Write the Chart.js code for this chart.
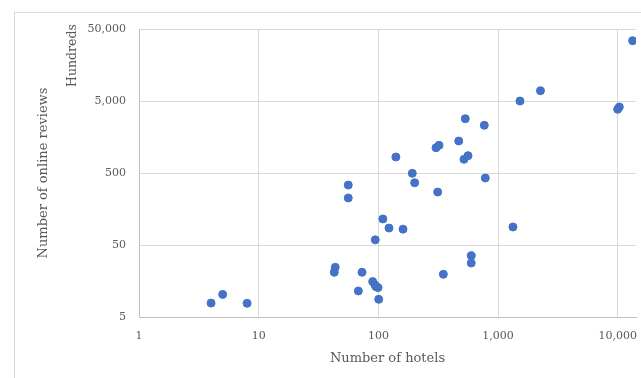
<!DOCTYPE html>
<html>
<head>
<meta charset="utf-8">
<script src="https://cdn.jsdelivr.net/npm/chart.js@4.4.0/dist/chart.umd.min.js"></script>
<style>
  html, body { margin: 0; padding: 0; background: #fff; }
  #wrap { width: 641px; height: 378px; }
</style>
</head>
<body>
<div id="wrap"><canvas id="chart" width="641" height="378"></canvas></div>
<script>
// data
const hotels = [4.0, 5.0, 8.0, 43.6, 42.8, 56, 56, 73, 68, 89.6, 93.7, 95.5, 99.3, 100.6,
  94.2, 109, 122.6, 160.6, 140, 192, 201, 313, 303, 321, 469, 519, 561, 782, 597, 597,
  349, 1331, 1524, 2260, 532, 767, 13300, 9980, 10300];
const reviews = [7.8, 10.3, 7.75, 24.5, 20.9, 340, 225, 20.9, 11.5, 15.5, 13.9, 13.2, 12.8, 8.8,
  59, 115, 86, 83, 834, 495, 366, 272, 1122, 1212, 1390, 775, 870, 426, 35.5, 28.1,
  19.6, 89, 5000, 6950, 2838, 2300, 34400, 3835, 4130];
const xTicks = [1, 10, 100, 1000, 10000];
const yTicks = [5, 50, 500, 5000, 50000];

const textColor = "#595959";
const fontFamily = "'DejaVu Serif', serif";

const points = hotels.map((h, i) => ({ x: h, y: reviews[i] }));

// chart frame and display-unit label
const extras = {
  id: "extras",
  beforeDraw(chart) {
    const c = chart.ctx;
    c.save();
    c.strokeStyle = "#d9d9d9";
    c.lineWidth = 1;
    c.strokeRect(14.5, 12.5, 800, 600);
    c.restore();
  },
  afterDraw(chart) {
    const c = chart.ctx;
    c.save();
    c.fillStyle = textColor;
    c.font = "12.5px " + fontFamily;
    c.translate(73, 55.5);
    c.rotate(-Math.PI / 2);
    c.textAlign = "center";
    c.textBaseline = "middle";
    c.fillText("Hundreds", 0, 0);
    c.restore();
  },
};

new Chart(document.getElementById("chart"), {
  type: "scatter",
  data: {
    datasets: [{
      data: points,
      backgroundColor: "#4472C4",
      borderColor: "#4472C4",
      pointRadius: 4,
      pointHoverRadius: 4,
    }],
  },
  options: {
    responsive: false,
    animation: false,
    layout: { padding: { left: 0, right: 5, top: 29, bottom: 0 }, autoPadding: false },
    plugins: { legend: { display: false }, tooltip: { enabled: false } },
    scales: {
      x: {
        type: "logarithmic",
        min: 1,
        max: 14200,
        afterBuildTicks: (s) => { s.ticks = xTicks.map((v) => ({ value: v })); },
        afterFit: (s) => { s.height = 61; s.paddingLeft = 0; s.paddingRight = 0; },
        grid: { color: "#d9d9d9", drawTicks: false },
        border: { color: "#bfbfbf" },
        ticks: {
          color: textColor,
          font: { family: fontFamily, size: 11 },
          padding: 13,
          maxRotation: 0,
          autoSkip: false,
          callback: (v) => Number(v).toLocaleString("en-US"),
        },
        title: {
          display: true,
          text: "Number of hotels",
          color: textColor,
          font: { family: fontFamily, size: 13 },
          padding: { top: 0, bottom: 12 },
        },
      },
      y: {
        type: "logarithmic",
        min: 5,
        max: 50000,
        afterBuildTicks: (s) => { s.ticks = yTicks.map((v) => ({ value: v })); },
        afterFit: (s) => { s.width = 139; s.paddingTop = 0; s.paddingBottom = 0; },
        grid: { color: "#d9d9d9", drawTicks: false },
        border: { color: "#bfbfbf" },
        ticks: {
          color: textColor,
          font: { family: fontFamily, size: 11 },
          padding: 13,
          autoSkip: false,
          callback: (v) => Number(v).toLocaleString("en-US"),
        },
        title: {
          display: true,
          text: "Number of online reviews",
          color: textColor,
          font: { family: fontFamily, size: 13 },
          padding: { top: 36, bottom: 0 },
        },
      },
    },
  },
  plugins: [extras],
});
</script>
</body>
</html>
